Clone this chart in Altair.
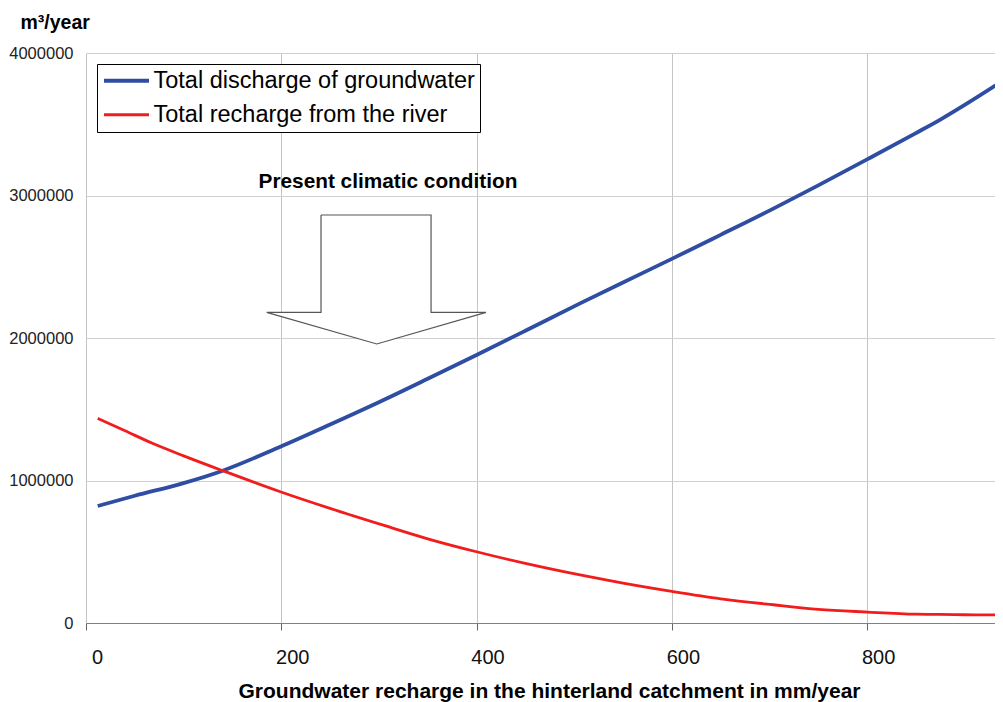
import altair as alt
import pandas as pd

# ---- data ----
series_names = ["Total discharge of groundwater", "Total recharge from the river"]
series_colors = ["#2E4DA3", "#F21C1C"]

discharge_x = [12, 50, 99, 140, 199, 250, 301, 350, 400, 450, 506, 550, 600,
               650, 704, 750, 800, 850, 875, 900, 938]
discharge_y = [821000, 893000, 980000, 1069000, 1237000, 1393000, 1553000,
               1714000, 1881000, 2051000, 2243000, 2390000, 2555000, 2724000,
               2908000, 3071000, 3253000, 3438000, 3533000, 3636000, 3801000]

river_x = [12, 40, 68, 100, 140, 199, 250, 307, 350, 400, 450, 506, 550, 600,
           650, 704, 750, 800, 850, 875, 900, 938]
river_y = [1436000, 1349000, 1261000, 1173000, 1069000, 921000, 804000, 681000,
           591000, 500000, 418000, 337000, 280000, 222000, 170000, 128000,
           96000, 77000, 62000, 60000, 58000, 56000]

x_ticks = [0, 200, 400, 600, 800]
y_ticks = [0, 1000000, 2000000, 3000000, 4000000]

# block-arrow annotation outline (data coordinates)
arrow_x = [240.7, 353.4, 353.4, 409.7, 297.8, 185.1, 240.7, 240.7]
arrow_y = [2863000, 2863000, 2180000, 2180000, 1958000, 2180000, 2180000, 2863000]

note_text = ["Present climatic condition"]
note_x = [309.3]
note_y = [3050000]

# ---- tables ----
df = pd.concat([
    pd.DataFrame({"x": discharge_x, "y": discharge_y, "series": series_names[0]}),
    pd.DataFrame({"x": river_x, "y": river_y, "series": series_names[1]}),
])
arrow_df = pd.DataFrame({"x": arrow_x, "y": arrow_y, "i": list(range(len(arrow_x)))})
note_df = pd.DataFrame({"x": note_x, "y": note_y, "label": note_text})

FONT = "Liberation Sans"

xscale = alt.Scale(domain=[0, 931], nice=False, zero=False)
yscale = alt.Scale(domain=[0, 4000000], nice=False)

x_axis = alt.Axis(
    values=x_ticks,
    title="Groundwater recharge in the hinterland catchment in mm/year",
    titleFont=FONT, titleFontSize=21, titleFontWeight="bold", titleColor="black",
    titleX=463, titleY=74, titleBaseline="alphabetic", titleAlign="center",
    labelFont=FONT, labelFontSize=20, labelColor="#111111", labelOffset=11,
    labelPadding=17, labelFlush=False, labelOverlap=False,
    tickSize=7, tickColor="#666666", domainColor="#808080",
    gridColor="#C4C4C4", gridWidth=1,
)
y_axis = alt.Axis(
    values=y_ticks, format="d",
    title="m³/year", titleAngle=0, titleAlign="left", titleX=-66, titleY=-25,
    titleBaseline="alphabetic", titleFont=FONT, titleFontSize=19.5,
    titleFontWeight="bold", titleColor="black",
    labelFont=FONT, labelFontSize=16.5, labelColor="#222222", labelPadding=13,
    ticks=False, tickSize=0, domain=False,
    gridColor="#D0D0D0", gridWidth=1,
)

x_enc = alt.X("x:Q", scale=xscale, axis=x_axis)
y_enc = alt.Y("y:Q", scale=yscale, axis=y_axis)

arrow = alt.Chart(arrow_df).mark_line(
    stroke="#555555", strokeWidth=1.2, fill="white"
).encode(x=x_enc, y=y_enc, order="i:Q")

note = alt.Chart(note_df).mark_text(
    font=FONT, fontSize=20.8, fontWeight="bold", color="black",
    align="center", baseline="alphabetic"
).encode(x=x_enc, y=y_enc, text="label:N")

lines = alt.Chart(df).mark_line(interpolate="monotone", clip=True).encode(
    x=x_enc, y=y_enc,
    color=alt.Color(
        "series:N",
        scale=alt.Scale(domain=series_names, range=series_colors),
        legend=alt.Legend(
            title=None, orient="none", legendX=11, legendY=11,
            direction="vertical",
            symbolType="M-1.3,0H4.7", symbolSize=225, symbolStrokeWidth=3.5,
            labelFont=FONT, labelFontSize=23.5, labelColor="black",
            labelOffset=28, labelLimit=500, rowPadding=9, padding=5,
            strokeColor="black", fillColor="white",
        ),
    ),
    strokeWidth=alt.StrokeWidth(
        "series:N",
        scale=alt.Scale(domain=series_names, range=[3.8, 2.8]),
        legend=None,
    ),
)

chart = alt.layer(arrow, note, lines).properties(
    width=909, height=570,
    padding={"left": 78, "top": 45, "right": 0, "bottom": 79},
    autosize=alt.AutoSizeParams(type="none"),
).configure(font=FONT).configure_view(strokeWidth=0)

chart.save("out.html", embed_options={"renderer": "svg", "actions": False})
